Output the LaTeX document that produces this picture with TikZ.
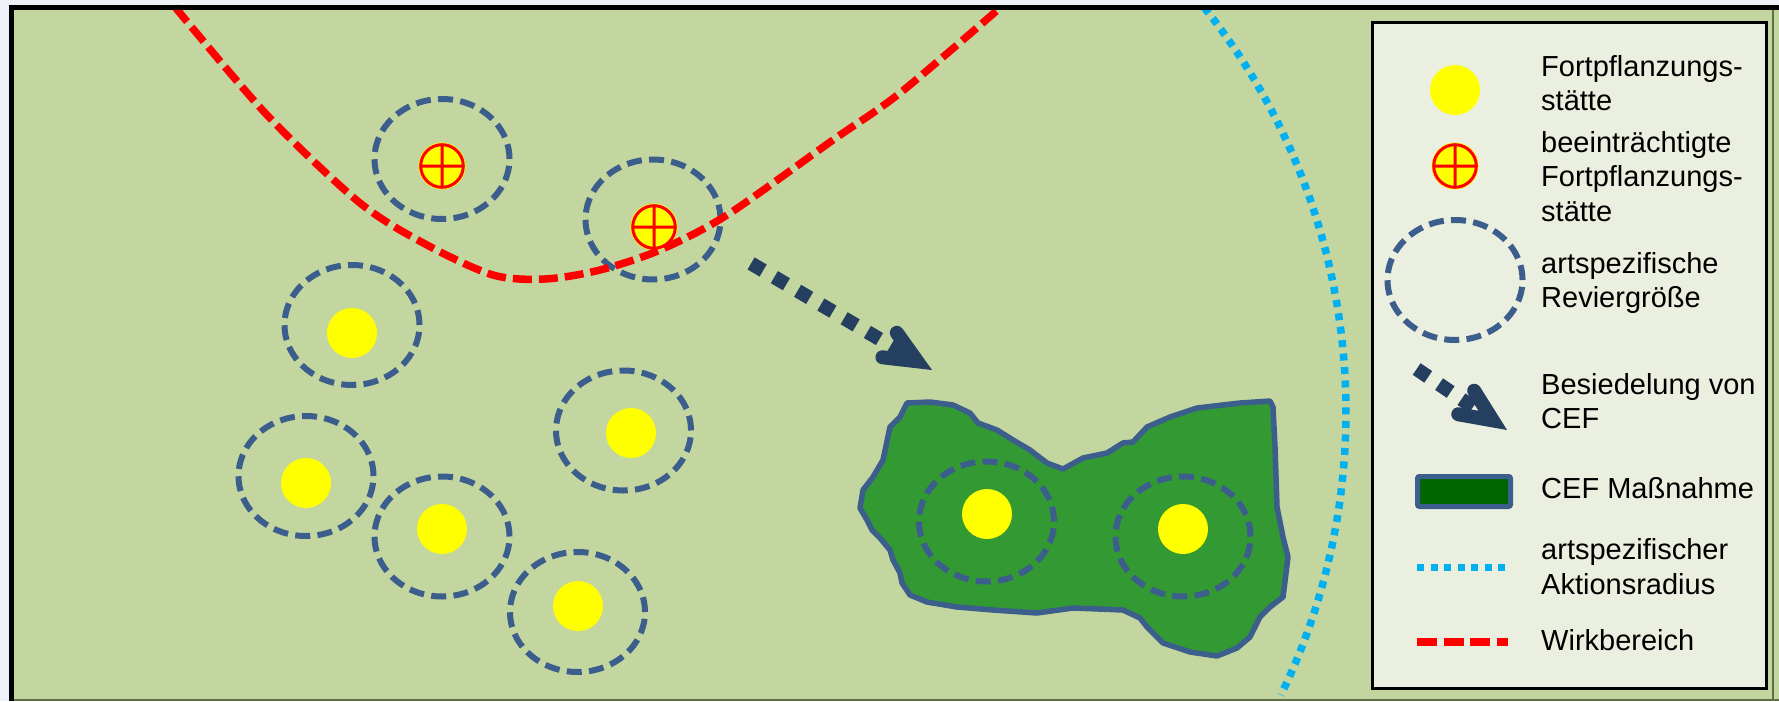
\documentclass[tikz,border=0pt]{standalone}
\usepackage{fontspec}
\setmainfont{Liberation Sans}
\usetikzlibrary{shapes.geometric}

\definecolor{outerbg}{HTML}{EEF2F8}
\definecolor{field}{HTML}{C4D69F}
\definecolor{frameshade}{HTML}{5E7046}
\definecolor{terrblue}{HTML}{3B5E8C}
\definecolor{siteyellow}{HTML}{FFFF00}
\definecolor{impactred}{HTML}{FF0000}
\definecolor{actioncyan}{HTML}{00B0F0}
\definecolor{cefgreen}{HTML}{339933}
\definecolor{cefdark}{HTML}{006600}
\definecolor{legendbg}{HTML}{EBEFDF}
\definecolor{arrownavy}{HTML}{243F60}

\newcommand\legentry[1]{\begin{tabular}[t]{@{}l@{}}#1\end{tabular}}

\tikzset{
  territory/.style={ellipse, draw=terrblue, line width=6pt,
    dash pattern=on 15pt off 7.3pt, minimum width=135pt,
    minimum height=120pt, inner sep=0pt},
  site/.style={circle, fill=siteyellow, minimum size=50pt, inner sep=0pt},
  impactline/.style={draw=impactred, line width=7.5pt, dash pattern=on 19pt off 7pt},
  actionline/.style={draw=actioncyan, line width=7.5pt, dash pattern=on 7pt off 6.5pt},
  cefarea/.style={fill=cefgreen, draw=terrblue, line width=5.5pt, line join=round},
  cefbox/.style={rectangle, rounded corners=2pt, fill=cefdark, draw=terrblue,
    line width=5pt, minimum width=93pt, minimum height=30pt, inner sep=0pt},
  legendframe/.style={fill=legendbg, draw=black, line width=3pt},
  legtext/.style={anchor=base west, inner sep=0pt,
    font=\fontsize{29pt}{34.5pt}\selectfont},
  cefdots/.style={draw=arrownavy, line width=14pt, dash pattern=on 14pt off 13pt},
  cefhead/.style={draw=arrownavy, line width=14pt, line cap=round, line join=miter},
  % settlement arrow: tip at the origin, dotted shaft along -x starting at #1
  pics/cefarrow/.style={code={
    \draw[cefdots] (#1,0) -- (-35,0);
    \draw[cefhead] (-49.2,-14.2) -- (-17.2,0) -- (-49.2,14.2);
  }},
  % impaired breeding site: yellow disc with red ring and cross
  pics/impaired/.style={code={
    \fill[siteyellow] (0,0) circle[radius=23.5pt];
    \draw[impactred, line width=3pt] (0,0) circle[radius=21.3pt]
      (-21.3pt,0) -- (21.3pt,0) (0,-21.3pt) -- (0,21.3pt);
  }},
}

\begin{document}
\begin{tikzpicture}[x=1pt, y=-1pt]
\useasboundingbox (0,0) rectangle (1779,701);

% page and field
\fill[outerbg] (0,0) rectangle (1779,701);
\fill[field] (11.5,7.5) rectangle (1779,701);

% compensation area (CEF)
\filldraw[cefarea] (907,403) -- (930,402) -- (953,405) -- (970,413) -- (978,423)
  -- (997,430) -- (1013,440) -- (1030,450) -- (1047,463) -- (1063,469)
  -- (1083,458) -- (1107,453) -- (1123,443) -- (1133,442) -- (1147,427)
  -- (1170,417) -- (1197,408) -- (1240,403) -- (1270,401) -- (1273,407)
  -- (1275,447) -- (1277,507) -- (1283,537) -- (1288,557) -- (1283,597)
  -- (1270,607) -- (1260,617) -- (1250,637) -- (1237,648) -- (1217,656)
  -- (1190,652) -- (1163,643) -- (1147,627) -- (1140,618) -- (1123,610)
  -- (1073,608) -- (1037,613) -- (993,610) -- (957,607) -- (927,602)
  -- (910,595) -- (902,583) -- (900,573) -- (893,560) -- (890,550)
  -- (880,538) -- (872,530) -- (867,520) -- (860,508) -- (863,490)
  -- (873,477) -- (883,460) -- (890,427) -- (900,417) -- cycle;

% territories
\node[territory] (tA) at (442,159) {};
\node[territory] (tB) at (653,219.5) {};
\node[territory] (tC) at (352,325) {};
\node[territory] (tD) at (623.5,430.5) {};
\node[territory] (tE) at (306,476) {};
\node[territory] (tF) at (442,536.5) {};
\node[territory] (tG) at (577.5,612) {};
\node[territory] (tH) at (986.5,521.5) {};
\node[territory] (tI) at (1183,536.5) {};

% breeding sites
\pic (sA) at (442,166) {impaired};
\pic (sB) at (654,227) {impaired};
\node[site] (sC) at (352,333) {};
\node[site] (sD) at (631,433) {};
\node[site] (sE) at (306,483) {};
\node[site] (sF) at (442,529) {};
\node[site] (sG) at (578,606) {};
\node[site] (sH) at (987,514) {};
\node[site] (sI) at (1183,529) {};

% impact zone
\draw[impactline] plot[smooth] coordinates {(175,7) (267,115) (360,203) (427,245)
  (493,275) (545,279) (600,270) (660,250) (727,215) (833,140) (900,93) (1001,7)};

% species action radius
\draw[actionline] plot[domain=-38.6:25.9, samples=80]
  ({698+648*cos(\x)}, {412+648*sin(\x)});

% settlement of the CEF area
\pic[rotate=-30.5] (moveArrow) at (932,370) {cefarrow=-210};

% frame
\draw[black, line width=5pt] (11.5,701) -- (11.5,7.5) -- (1779,7.5);
\draw[frameshade, line width=1.5pt] (14,699.8) -- (1779,699.8);
\draw[frameshade, line width=1.2pt] (1773,10) -- (1773,699.8);

% legend
\draw[legendframe] (1372,23) rectangle (1766,688);
\node[site] (lgSite) at (1455,90) {};
\pic (lgImpaired) at (1455,166) {impaired};
\node[territory] (lgTerr) at (1455,280) {};
\pic[rotate=-34] (lgArrow) at (1507,430) {cefarrow=-109};
\node[cefbox] (lgCef) at (1464,491.5) {};
\coordinate (lgAct1) at (1417,567.7);
\coordinate (lgAct2) at (1505,567.7);
\draw[actionline] (lgAct1) -- (lgAct2);
\coordinate (lgImp1) at (1417,642);
\coordinate (lgImp2) at (1508,642);
\draw[impactline, dash pattern=on 20pt off 6.5pt] (lgImp1) -- (lgImp2);

\node[legtext] (ltSite) at (1541,76) {\legentry{Fortpflanzungs-\\stätte}};
\node[legtext] (ltImpaired) at (1541,152) {\legentry{beeinträchtigte\\Fortpflanzungs-\\stätte}};
\node[legtext] (ltTerr) at (1541,273) {\legentry{artspezifische\\Reviergröße}};
\node[legtext] (ltArrow) at (1541,394) {\legentry{Besiedelung von\\CEF}};
\node[legtext] (ltCef) at (1541,498) {CEF Maßnahme};
\node[legtext] (ltAct) at (1541,559.5) {\legentry{artspezifischer\\Aktionsradius}};
\node[legtext] (ltImp) at (1541,650) {Wirkbereich};
\end{tikzpicture}
\end{document}
